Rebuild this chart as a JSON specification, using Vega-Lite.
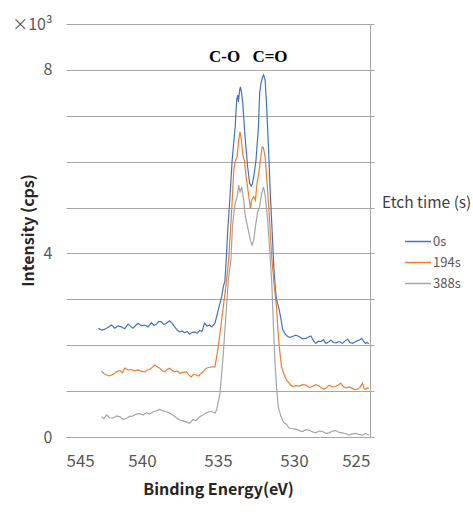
{
  "$schema": "https://vega.github.io/schema/vega-lite/v6.json",
  "autosize": "none",
  "width": 304,
  "height": 413,
  "padding": {"left": 66, "top": 24, "right": 103, "bottom": 76},
  "background": "white",
  "config": {"view": {"stroke": null}, "font": "Noto Sans CJK JP"},
  "datasets": {
    "spectra": [
      {"e":542.88,"i":2.37,"s":"0s"},{"e":542.66,"i":2.33,"s":"0s"},{"e":542.44,"i":2.35,"s":"0s"},{"e":542.22,"i":2.39,"s":"0s"},{"e":542.0,"i":2.44,"s":"0s"},{"e":541.79,"i":2.37,"s":"0s"},{"e":541.57,"i":2.42,"s":"0s"},{"e":541.35,"i":2.40,"s":"0s"},{"e":541.13,"i":2.36,"s":"0s"},{"e":540.91,"i":2.46,"s":"0s"},{"e":540.75,"i":2.41,"s":"0s"},{"e":540.59,"i":2.37,"s":"0s"},{"e":540.42,"i":2.43,"s":"0s"},{"e":540.26,"i":2.48,"s":"0s"},{"e":540.04,"i":2.42,"s":"0s"},{"e":539.82,"i":2.44,"s":"0s"},{"e":539.6,"i":2.40,"s":"0s"},{"e":539.38,"i":2.49,"s":"0s"},{"e":539.21,"i":2.43,"s":"0s"},{"e":539.05,"i":2.46,"s":"0s"},{"e":538.89,"i":2.52,"s":"0s"},{"e":538.73,"i":2.51,"s":"0s"},{"e":538.56,"i":2.45,"s":"0s"},{"e":538.4,"i":2.48,"s":"0s"},{"e":538.18,"i":2.53,"s":"0s"},{"e":538.0,"i":2.47,"s":"0s"},{"e":537.85,"i":2.40,"s":"0s"},{"e":537.68,"i":2.33,"s":"0s"},{"e":537.52,"i":2.29,"s":"0s"},{"e":537.36,"i":2.31,"s":"0s"},{"e":537.2,"i":2.27,"s":"0s"},{"e":537.03,"i":2.30,"s":"0s"},{"e":536.87,"i":2.24,"s":"0s"},{"e":536.7,"i":2.28,"s":"0s"},{"e":536.54,"i":2.29,"s":"0s"},{"e":536.37,"i":2.26,"s":"0s"},{"e":536.21,"i":2.32,"s":"0s"},{"e":536.05,"i":2.30,"s":"0s"},{"e":535.89,"i":2.48,"s":"0s"},{"e":535.72,"i":2.42,"s":"0s"},{"e":535.56,"i":2.44,"s":"0s"},{"e":535.4,"i":2.40,"s":"0s"},{"e":535.2,"i":2.48,"s":"0s"},{"e":534.98,"i":2.77,"s":"0s"},{"e":534.76,"i":3.06,"s":"0s"},{"e":534.65,"i":3.27,"s":"0s"},{"e":534.54,"i":3.42,"s":"0s"},{"e":534.46,"i":3.86,"s":"0s"},{"e":534.36,"i":4.5,"s":"0s"},{"e":534.2,"i":5.3,"s":"0s"},{"e":534.07,"i":6.03,"s":"0s"},{"e":533.87,"i":6.76,"s":"0s"},{"e":533.77,"i":7.34,"s":"0s"},{"e":533.7,"i":7.45,"s":"0s"},{"e":533.66,"i":7.30,"s":"0s"},{"e":533.57,"i":7.57,"s":"0s"},{"e":533.52,"i":7.63,"s":"0s"},{"e":533.45,"i":7.50,"s":"0s"},{"e":533.37,"i":7.27,"s":"0s"},{"e":533.22,"i":6.54,"s":"0s"},{"e":533.05,"i":5.89,"s":"0s"},{"e":532.92,"i":5.53,"s":"0s"},{"e":532.82,"i":5.47,"s":"0s"},{"e":532.74,"i":5.52,"s":"0s"},{"e":532.65,"i":5.67,"s":"0s"},{"e":532.5,"i":6.03,"s":"0s"},{"e":532.34,"i":6.76,"s":"0s"},{"e":532.26,"i":7.49,"s":"0s"},{"e":532.17,"i":7.71,"s":"0s"},{"e":532.06,"i":7.85,"s":"0s"},{"e":532.0,"i":7.89,"s":"0s"},{"e":531.9,"i":7.78,"s":"0s"},{"e":531.82,"i":7.34,"s":"0s"},{"e":531.69,"i":6.40,"s":"0s"},{"e":531.56,"i":5.31,"s":"0s"},{"e":531.41,"i":4.3,"s":"0s"},{"e":531.33,"i":3.7,"s":"0s"},{"e":531.22,"i":3.2,"s":"0s"},{"e":531.14,"i":2.98,"s":"0s"},{"e":530.97,"i":2.77,"s":"0s"},{"e":530.85,"i":2.55,"s":"0s"},{"e":530.75,"i":2.35,"s":"0s"},{"e":530.6,"i":2.25,"s":"0s"},{"e":530.42,"i":2.19,"s":"0s"},{"e":530.26,"i":2.17,"s":"0s"},{"e":530.1,"i":2.19,"s":"0s"},{"e":529.88,"i":2.22,"s":"0s"},{"e":529.66,"i":2.19,"s":"0s"},{"e":529.44,"i":2.14,"s":"0s"},{"e":529.22,"i":2.15,"s":"0s"},{"e":529.05,"i":2.18,"s":"0s"},{"e":528.89,"i":2.20,"s":"0s"},{"e":528.72,"i":2.10,"s":"0s"},{"e":528.56,"i":2.04,"s":"0s"},{"e":528.4,"i":2.09,"s":"0s"},{"e":528.23,"i":2.08,"s":"0s"},{"e":528.07,"i":2.12,"s":"0s"},{"e":527.9,"i":2.04,"s":"0s"},{"e":527.74,"i":2.07,"s":"0s"},{"e":527.57,"i":2.11,"s":"0s"},{"e":527.41,"i":2.06,"s":"0s"},{"e":527.25,"i":2.05,"s":"0s"},{"e":527.03,"i":2.08,"s":"0s"},{"e":526.81,"i":2.04,"s":"0s"},{"e":526.65,"i":2.09,"s":"0s"},{"e":526.48,"i":2.13,"s":"0s"},{"e":526.32,"i":2.06,"s":"0s"},{"e":526.15,"i":2.04,"s":"0s"},{"e":525.99,"i":2.07,"s":"0s"},{"e":525.82,"i":2.10,"s":"0s"},{"e":525.66,"i":2.12,"s":"0s"},{"e":525.54,"i":2.15,"s":"0s"},{"e":525.42,"i":2.09,"s":"0s"},{"e":525.3,"i":2.04,"s":"0s"},{"e":525.18,"i":2.06,"s":"0s"},{"e":525.08,"i":2.03,"s":"0s"},

      {"e":542.66,"i":1.44,"s":"194s"},{"e":542.5,"i":1.38,"s":"194s"},{"e":542.33,"i":1.35,"s":"194s"},{"e":542.17,"i":1.33,"s":"194s"},{"e":542.0,"i":1.35,"s":"194s"},{"e":541.84,"i":1.38,"s":"194s"},{"e":541.68,"i":1.42,"s":"194s"},{"e":541.46,"i":1.45,"s":"194s"},{"e":541.3,"i":1.40,"s":"194s"},{"e":541.13,"i":1.50,"s":"194s"},{"e":540.91,"i":1.46,"s":"194s"},{"e":540.69,"i":1.47,"s":"194s"},{"e":540.48,"i":1.44,"s":"194s"},{"e":540.26,"i":1.46,"s":"194s"},{"e":540.04,"i":1.43,"s":"194s"},{"e":539.82,"i":1.42,"s":"194s"},{"e":539.65,"i":1.46,"s":"194s"},{"e":539.49,"i":1.47,"s":"194s"},{"e":539.32,"i":1.52,"s":"194s"},{"e":539.16,"i":1.57,"s":"194s"},{"e":539.0,"i":1.53,"s":"194s"},{"e":538.84,"i":1.50,"s":"194s"},{"e":538.67,"i":1.45,"s":"194s"},{"e":538.51,"i":1.42,"s":"194s"},{"e":538.34,"i":1.47,"s":"194s"},{"e":538.18,"i":1.50,"s":"194s"},{"e":538.02,"i":1.45,"s":"194s"},{"e":537.85,"i":1.42,"s":"194s"},{"e":537.68,"i":1.44,"s":"194s"},{"e":537.52,"i":1.39,"s":"194s"},{"e":537.3,"i":1.41,"s":"194s"},{"e":537.09,"i":1.42,"s":"194s"},{"e":536.93,"i":1.36,"s":"194s"},{"e":536.76,"i":1.31,"s":"194s"},{"e":536.6,"i":1.37,"s":"194s"},{"e":536.43,"i":1.35,"s":"194s"},{"e":536.27,"i":1.33,"s":"194s"},{"e":536.1,"i":1.39,"s":"194s"},{"e":535.93,"i":1.44,"s":"194s"},{"e":535.77,"i":1.50,"s":"194s"},{"e":535.56,"i":1.52,"s":"194s"},{"e":535.34,"i":1.53,"s":"194s"},{"e":535.2,"i":1.53,"s":"194s"},{"e":534.98,"i":1.97,"s":"194s"},{"e":534.76,"i":2.55,"s":"194s"},{"e":534.54,"i":3.13,"s":"194s"},{"e":534.43,"i":3.42,"s":"194s"},{"e":534.3,"i":3.86,"s":"194s"},{"e":534.18,"i":4.5,"s":"194s"},{"e":534.04,"i":5.3,"s":"194s"},{"e":533.96,"i":5.82,"s":"194s"},{"e":533.87,"i":6.0,"s":"194s"},{"e":533.74,"i":6.11,"s":"194s"},{"e":533.64,"i":6.47,"s":"194s"},{"e":533.55,"i":6.65,"s":"194s"},{"e":533.46,"i":6.47,"s":"194s"},{"e":533.37,"i":6.14,"s":"194s"},{"e":533.26,"i":6.03,"s":"194s"},{"e":533.15,"i":5.67,"s":"194s"},{"e":533.0,"i":5.31,"s":"194s"},{"e":532.87,"i":4.98,"s":"194s"},{"e":532.78,"i":5.16,"s":"194s"},{"e":532.65,"i":5.24,"s":"194s"},{"e":532.54,"i":5.16,"s":"194s"},{"e":532.43,"i":5.53,"s":"194s"},{"e":532.32,"i":5.75,"s":"194s"},{"e":532.21,"i":6.03,"s":"194s"},{"e":532.1,"i":6.32,"s":"194s"},{"e":532.02,"i":6.31,"s":"194s"},{"e":531.9,"i":6.11,"s":"194s"},{"e":531.77,"i":5.53,"s":"194s"},{"e":531.62,"i":4.80,"s":"194s"},{"e":531.47,"i":3.93,"s":"194s"},{"e":531.3,"i":3.3,"s":"194s"},{"e":531.14,"i":2.8,"s":"194s"},{"e":531.05,"i":2.3,"s":"194s"},{"e":530.97,"i":1.97,"s":"194s"},{"e":530.82,"i":1.53,"s":"194s"},{"e":530.64,"i":1.35,"s":"194s"},{"e":530.49,"i":1.24,"s":"194s"},{"e":530.26,"i":1.15,"s":"194s"},{"e":530.1,"i":1.10,"s":"194s"},{"e":529.88,"i":1.12,"s":"194s"},{"e":529.66,"i":1.11,"s":"194s"},{"e":529.44,"i":1.14,"s":"194s"},{"e":529.22,"i":1.13,"s":"194s"},{"e":529.0,"i":1.08,"s":"194s"},{"e":528.79,"i":1.10,"s":"194s"},{"e":528.57,"i":1.14,"s":"194s"},{"e":528.35,"i":1.11,"s":"194s"},{"e":528.18,"i":1.07,"s":"194s"},{"e":528.02,"i":1.04,"s":"194s"},{"e":527.85,"i":1.08,"s":"194s"},{"e":527.69,"i":1.13,"s":"194s"},{"e":527.47,"i":1.09,"s":"194s"},{"e":527.25,"i":1.10,"s":"194s"},{"e":527.08,"i":1.14,"s":"194s"},{"e":526.92,"i":1.17,"s":"194s"},{"e":526.75,"i":1.10,"s":"194s"},{"e":526.59,"i":1.07,"s":"194s"},{"e":526.37,"i":1.09,"s":"194s"},{"e":526.15,"i":1.06,"s":"194s"},{"e":525.99,"i":1.03,"s":"194s"},{"e":525.82,"i":1.04,"s":"194s"},{"e":525.66,"i":1.08,"s":"194s"},{"e":525.49,"i":1.17,"s":"194s"},{"e":525.38,"i":1.05,"s":"194s"},{"e":525.3,"i":1.04,"s":"194s"},{"e":525.18,"i":1.07,"s":"194s"},{"e":525.08,"i":1.06,"s":"194s"},

      {"e":542.66,"i":0.44,"s":"388s"},{"e":542.5,"i":0.40,"s":"388s"},{"e":542.33,"i":0.48,"s":"388s"},{"e":542.12,"i":0.42,"s":"388s"},{"e":541.9,"i":0.41,"s":"388s"},{"e":541.68,"i":0.46,"s":"388s"},{"e":541.46,"i":0.44,"s":"388s"},{"e":541.24,"i":0.38,"s":"388s"},{"e":541.02,"i":0.41,"s":"388s"},{"e":540.8,"i":0.45,"s":"388s"},{"e":540.59,"i":0.46,"s":"388s"},{"e":540.37,"i":0.50,"s":"388s"},{"e":540.15,"i":0.51,"s":"388s"},{"e":539.93,"i":0.48,"s":"388s"},{"e":539.71,"i":0.53,"s":"388s"},{"e":539.5,"i":0.50,"s":"388s"},{"e":539.28,"i":0.55,"s":"388s"},{"e":539.06,"i":0.57,"s":"388s"},{"e":538.84,"i":0.60,"s":"388s"},{"e":538.62,"i":0.57,"s":"388s"},{"e":538.4,"i":0.55,"s":"388s"},{"e":538.18,"i":0.52,"s":"388s"},{"e":537.96,"i":0.48,"s":"388s"},{"e":537.74,"i":0.42,"s":"388s"},{"e":537.52,"i":0.37,"s":"388s"},{"e":537.3,"i":0.35,"s":"388s"},{"e":537.09,"i":0.33,"s":"388s"},{"e":536.87,"i":0.30,"s":"388s"},{"e":536.65,"i":0.38,"s":"388s"},{"e":536.43,"i":0.36,"s":"388s"},{"e":536.21,"i":0.44,"s":"388s"},{"e":536.0,"i":0.48,"s":"388s"},{"e":535.77,"i":0.53,"s":"388s"},{"e":535.56,"i":0.55,"s":"388s"},{"e":535.34,"i":0.55,"s":"388s"},{"e":535.2,"i":0.52,"s":"388s"},{"e":535.09,"i":0.59,"s":"388s"},{"e":534.87,"i":0.95,"s":"388s"},{"e":534.65,"i":1.82,"s":"388s"},{"e":534.47,"i":2.69,"s":"388s"},{"e":534.32,"i":3.42,"s":"388s"},{"e":534.15,"i":3.86,"s":"388s"},{"e":534.05,"i":4.58,"s":"388s"},{"e":533.95,"i":4.9,"s":"388s"},{"e":533.87,"i":5.09,"s":"388s"},{"e":533.74,"i":5.24,"s":"388s"},{"e":533.64,"i":5.49,"s":"388s"},{"e":533.55,"i":5.34,"s":"388s"},{"e":533.44,"i":5.45,"s":"388s"},{"e":533.31,"i":5.16,"s":"388s"},{"e":533.2,"i":4.80,"s":"388s"},{"e":533.05,"i":4.58,"s":"388s"},{"e":532.87,"i":4.29,"s":"388s"},{"e":532.76,"i":4.18,"s":"388s"},{"e":532.65,"i":4.29,"s":"388s"},{"e":532.54,"i":4.58,"s":"388s"},{"e":532.39,"i":4.91,"s":"388s"},{"e":532.26,"i":5.02,"s":"388s"},{"e":532.13,"i":5.31,"s":"388s"},{"e":532.0,"i":5.45,"s":"388s"},{"e":531.89,"i":5.24,"s":"388s"},{"e":531.73,"i":4.73,"s":"388s"},{"e":531.56,"i":3.86,"s":"388s"},{"e":531.47,"i":3.42,"s":"388s"},{"e":531.35,"i":2.4,"s":"388s"},{"e":531.25,"i":1.61,"s":"388s"},{"e":531.14,"i":1.05,"s":"388s"},{"e":531.04,"i":0.66,"s":"388s"},{"e":530.86,"i":0.45,"s":"388s"},{"e":530.7,"i":0.33,"s":"388s"},{"e":530.5,"i":0.28,"s":"388s"},{"e":530.31,"i":0.19,"s":"388s"},{"e":530.1,"i":0.18,"s":"388s"},{"e":529.87,"i":0.17,"s":"388s"},{"e":529.66,"i":0.14,"s":"388s"},{"e":529.44,"i":0.12,"s":"388s"},{"e":529.22,"i":0.16,"s":"388s"},{"e":529.0,"i":0.15,"s":"388s"},{"e":528.78,"i":0.11,"s":"388s"},{"e":528.56,"i":0.09,"s":"388s"},{"e":528.35,"i":0.13,"s":"388s"},{"e":528.13,"i":0.12,"s":"388s"},{"e":527.91,"i":0.08,"s":"388s"},{"e":527.69,"i":0.09,"s":"388s"},{"e":527.47,"i":0.13,"s":"388s"},{"e":527.25,"i":0.14,"s":"388s"},{"e":527.03,"i":0.10,"s":"388s"},{"e":526.81,"i":0.09,"s":"388s"},{"e":526.59,"i":0.07,"s":"388s"},{"e":526.37,"i":0.04,"s":"388s"},{"e":526.15,"i":0.07,"s":"388s"},{"e":525.93,"i":0.08,"s":"388s"},{"e":525.71,"i":0.05,"s":"388s"},{"e":525.49,"i":0.04,"s":"388s"},{"e":525.3,"i":0.08,"s":"388s"},{"e":525.08,"i":0.04,"s":"388s"}
    ],
    "labels": [
      {"e": 534.57, "i": 8.29, "t": "C-O"},
      {"e": 531.58, "i": 8.29, "t": "C=O"}
    ]
  },
  "layer": [
    {
      "data": {"name": "spectra"},
      "mark": {"type": "line", "strokeWidth": 1.2, "interpolate": "linear"},
      "encoding": {
        "x": {
          "field": "e", "type": "quantitative",
          "scale": {"domain": [525, 545], "reverse": true, "nice": false, "zero": false},
          "axis": {
            "values": [545, 540, 535, 530, 525],
            "format": "d",
            "grid": false, "ticks": false, "tickSize": 0,
            "domain": true, "domainColor": "#a6a6a6", "domainWidth": 1,
            "labelFontSize": 17, "labelColor": "#595959", "labelPadding": 16,
            "labelFont": "Noto Sans CJK JP",
            "title": "Binding Energy(eV)",
            "titleFont": "Noto Sans CJK JP", "titleFontWeight": "bold", "titleFontSize": 16,
            "titleColor": "#262626", "titlePadding": 12
          }
        },
        "y": {
          "field": "i", "type": "quantitative",
          "scale": {"domain": [0, 9], "nice": false, "zero": true},
          "axis": {
            "orient": "left",
            "values": [0, 1, 2, 3, 4, 5, 6, 7, 8, 9],
            "labelExpr": "datum.value == 9 ? '×10³' : (datum.value % 4 == 0 ? datum.label : '')",
            "grid": true, "gridColor": "#a6a6a6", "gridWidth": 1,
            "domain": false, "ticks": false, "tickSize": 0,
            "labelFontSize": 16, "labelColor": "#595959", "labelPadding": 14,
            "labelFont": "Noto Sans CJK JP",
            "title": "Intensity (cps)",
            "titleFont": "Noto Sans CJK JP", "titleFontWeight": "bold", "titleFontSize": 16,
            "titleColor": "#262626",
            "titleX": -38, "titleY": 206, "titleAngle": 270,
            "titleAlign": "center", "titleBaseline": "middle"
          }
        },
        "color": {
          "field": "s", "type": "nominal",
          "scale": {"domain": ["0s", "194s", "388s"], "range": ["#4472C4", "#ED7D31", "#A5A5A5"]},
          "legend": {
            "orient": "none", "legendX": 316, "legendY": 172,
            "title": "Etch time (s)",
            "titleFont": "Noto Sans CJK JP", "titleFontSize": 15.5, "titleFontWeight": "normal",
            "titleColor": "#404040", "titlePadding": 16,
            "labelFont": "Noto Sans CJK JP", "labelFontSize": 13, "labelColor": "#595959",
            "labelOffset": 1,
            "symbolType": "stroke", "symbolSize": 676, "symbolStrokeWidth": 1.5,
            "symbolOffset": 22, "rowPadding": -2
          }
        }
      }
    },
    {
      "data": {"name": "labels"},
      "mark": {"type": "text", "font": "Liberation Serif", "fontWeight": "bold", "fontSize": 17, "color": "black", "align": "center", "baseline": "middle"},
      "encoding": {
        "x": {"field": "e", "type": "quantitative"},
        "y": {
          "field": "i", "type": "quantitative",
          "axis": {
            "orient": "right", "values": [0, 1, 2, 3, 4, 5, 6, 7, 8, 9],
            "labels": false, "grid": false, "title": null,
            "domain": true, "domainColor": "#a6a6a6",
            "ticks": true, "tickSize": 4, "tickColor": "#a6a6a6"
          }
        },
        "text": {"field": "t"}
      }
    }
  ],
  "resolve": {"axis": {"y": "independent"}}
}
